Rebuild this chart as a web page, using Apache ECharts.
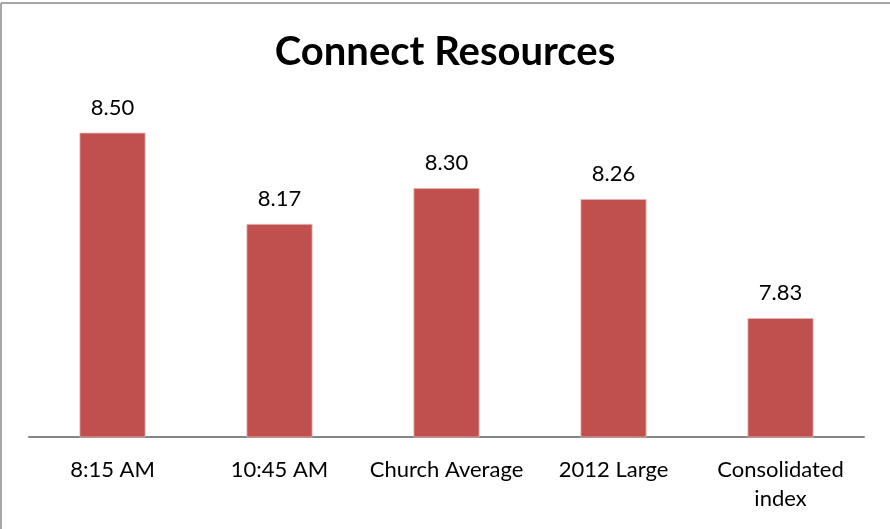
<!DOCTYPE html>
<html>
<head>
<meta charset="utf-8">
<script src="https://cdn.jsdelivr.net/npm/echarts@6/dist/echarts.min.js"></script>
<style>
  html, body { margin: 0; padding: 0; background: #fff; }
  #chart { width: 890px; height: 529px; }
</style>
</head>
<body>
<div id="chart"></div>
<script>
const categories = ['8:15 AM', '10:45 AM', 'Church Average', '2012 Large', 'Consolidated\nindex'];
const scores = [8.50, 8.17, 8.30, 8.26, 7.83];

const FONT = 'Lato, "Open Sans", sans-serif';

const chart = echarts.init(document.getElementById('chart'), null, { renderer: 'canvas' });
chart.setOption({
  animation: false,
  backgroundColor: '#ffffff',
  title: {
    text: 'Connect Resources',
    left: 'center',
    top: 27,
    textStyle: { fontFamily: FONT, fontWeight: 'bold', fontSize: 40, color: '#000' }
  },
  grid: { left: 29, right: 26, top: 105, bottom: 92, containLabel: false },
  xAxis: {
    type: 'category',
    data: categories,
    axisLine: { show: true, lineStyle: { color: '#868686', width: 2 } },
    axisTick: { show: false },
    axisLabel: {
      fontFamily: FONT, fontSize: 22, color: '#000',
      margin: 18, lineHeight: 29, interval: 0
    }
  },
  yAxis: {
    type: 'value',
    min: 7.4,
    max: 8.6,
    interval: 0.2,
    show: false
  },
  series: [{
    type: 'bar',
    data: scores,
    barWidth: 66,
    itemStyle: { color: '#C0504D', borderColor: '#E6B9B8', borderWidth: 0.8 },
    label: {
      show: true,
      position: 'top',
      distance: 14,
      formatter: p => p.value.toFixed(2),
      fontFamily: FONT, fontSize: 22, color: '#000'
    }
  }],
  graphic: [
    { type: 'line', shape: { x1: 1, y1: 3, x2: 890, y2: 3 }, style: { stroke: '#a6a6a6', lineWidth: 2 } },
    { type: 'line', shape: { x1: 1, y1: 3, x2: 1, y2: 529 }, style: { stroke: '#a6a6a6', lineWidth: 2 } }
  ]
});
</script>
</body>
</html>
